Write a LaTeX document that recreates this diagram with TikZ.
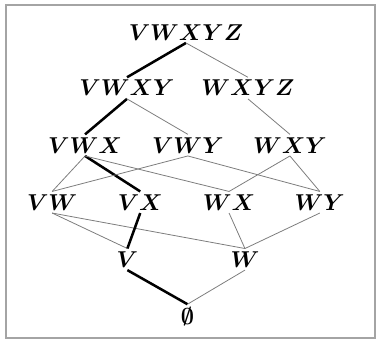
\documentclass[tikz,border=0pt]{standalone}
\usepackage{amsmath, amssymb}
\usetikzlibrary{positioning}
\definecolor{primary}{RGB}{0, 0, 0}
\definecolor{secondary}{RGB}{125, 125, 125}
\begin{document}
\begin{tikzpicture}[
			on grid,
			set/.style={inner sep=2pt, font=\fontsize{17}{20}\selectfont\boldmath},
			line/.style={thin, color=secondary, line width=0.6pt},
			chain/.style={color=primary, line width=1.9pt}
			]
			\useasboundingbox (0,0) rectangle (10,-9.02);
			\draw[color=secondary!70, line width=1.4pt] (0.16,-0.13) rectangle (9.92,-8.94);
			\node[set] (vwxyz) at (4.92,-0.85) {$VWXYZ$};
			\node[set, below left=1.48cm and 1.56cm of vwxyz] (vwxy) {$VWXY$};
			\node[set, below right=1.48cm and 1.64cm of vwxyz] (wxyz) {$WXYZ$};
			\node[set, below left=1.51cm and 1.11cm of vwxy] (vwx) {$VWX$};
			\node[set, below right=1.51cm and 1.61cm of vwxy] (vwy) {$VWY$};
			\node[set, below right=1.51cm and 1.11cm of wxyz] (wxy) {$WXY$};
			\node[set, below left=1.51cm and 0.87cm of vwx] (vw) {$VW$};
			\node[set, below right=1.51cm and 1.46cm of vwx] (vx) {$VX$};
			\node[set, below left=1.51cm and 1.61cm of wxy] (wx) {$WX$};
			\node[set, below right=1.51cm and 0.79cm of wxy] (wy) {$WY$};
			\node[set, below left=1.51cm and 0.34cm of vx] (v) {$V$};
			\node[set, below right=1.51cm and 0.42cm of wx] (w) {$W$};
			\node[set, below right=1.51cm and 1.59cm of v] (empty) {$\emptyset$};
			
			\draw[chain] (vwxyz.south) -- (vwxy.north);
			\draw[line] (vwxyz.south) -- (wxyz.north);
			\draw[chain] (vwxy.south) -- (vwx.north);
			\draw[line] (vwxy.south) -- (vwy.north);
			\draw[line] (wxyz.south) -- (wxy.north);
			\draw[line] (vwx.south) -- (vw.north);
			\draw[chain] (vwx.south) -- (vx.north);
			\draw[line] (vwx.south) -- (wx.north);
			\draw[line] (vwy.south) -- (vw.north);
			\draw[line] (vwy.south) -- (wy.north);
			\draw[line] (wxy.south) -- (wx.north);
			\draw[line] (wxy.south) -- (wy.north);
			\draw[line] (vw.south) -- (v.north);
			\draw[line] (vw.south) -- (w.north);
			\draw[chain] (vx.south) -- (v.north);
			\draw[line] (wx.south) -- (w.north);
			\draw[line] (wy.south) -- (w.north);
			\draw[chain] (v.south) -- (empty.north);
			\draw[line] (w.south) -- (empty.north);
		\end{tikzpicture}
\end{document}
